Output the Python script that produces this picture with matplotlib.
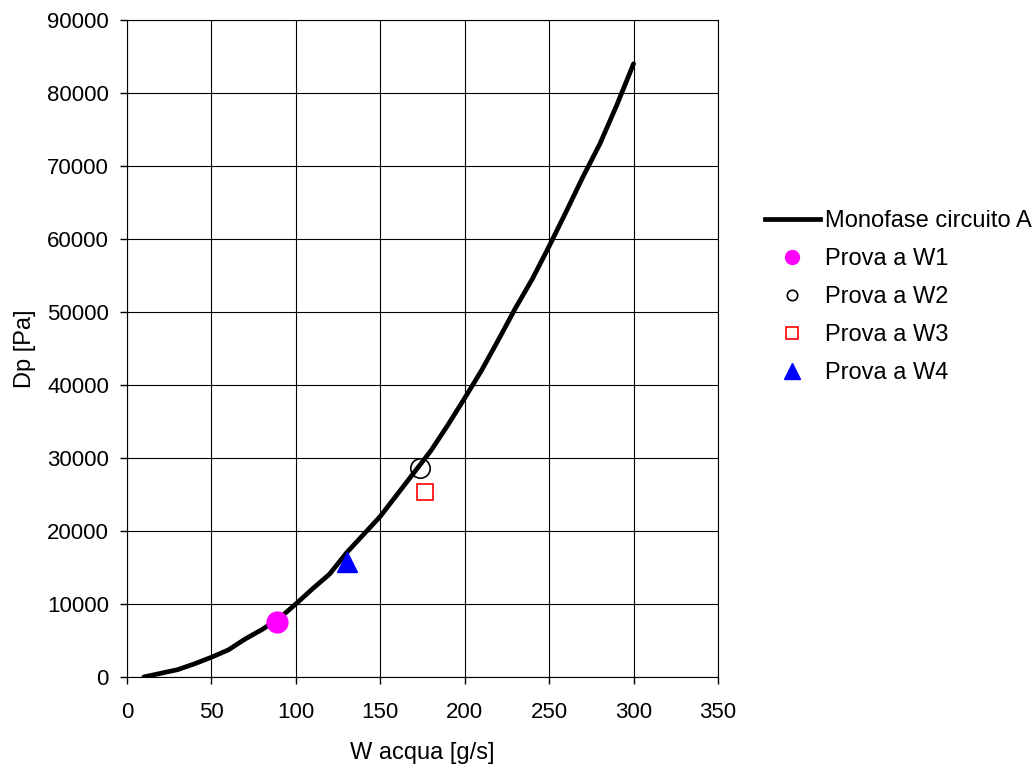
import matplotlib
matplotlib.use('Agg')
import matplotlib.pyplot as plt
from matplotlib.lines import Line2D

plt.rcParams['font.family'] = ['Liberation Sans', 'DejaVu Sans']

# curve: Monofase circuito A
w_curve = [10, 20, 30, 40, 50, 60, 70, 80, 90, 100, 110, 120, 130, 140, 150,
           160, 170, 180, 190, 200, 210, 220, 230, 240, 250, 260, 270, 280, 290, 300]
dp_curve = [0, 500, 1000, 1800, 2700, 3700, 5200, 6500, 8000, 10000, 12100, 14100,
            17000, 19500, 22000, 25000, 28000, 31000, 34500, 38200, 42000, 46200,
            50500, 54500, 59000, 63700, 68500, 73000, 78300, 84000]

# test points
w1, dp1 = [89], [7500]
w2, dp2 = [173.5], [28600]
w3, dp3 = [176.5], [25300]
w4, dp4 = [130], [15800]

fig = plt.figure(figsize=(10.35, 7.69), dpi=100)
ax = fig.add_axes([0.1227, 0.1197, 0.571, 0.8543])

ax.plot(w_curve, dp_curve, color='black', lw=3.4, solid_capstyle='round', zorder=3)
ax.plot(w1, dp1, 'o', color='magenta', ms=15, zorder=4)
ax.plot(w2, dp2, 'o', mfc='none', mec='black', ms=14, mew=1.2, zorder=4)
ax.plot(w3, dp3, 's', mfc='none', mec='red', ms=12, mew=1.2, zorder=4)
ax.plot(w4, dp4, '^', color='blue', ms=14, zorder=4)

ax.set_xlim(0, 350)
ax.set_ylim(0, 90000)
ax.set_xticks(range(0, 351, 50))
ax.set_yticks(range(0, 90001, 10000))
ax.grid(True, color='black', lw=0.8)
ax.tick_params(labelsize=16, direction='out', length=5, width=1)
ax.tick_params(axis='x', pad=13)
ax.tick_params(axis='y', pad=8)
for s in ax.spines.values():
    s.set_linewidth(0.8)
ax.set_xlabel('W acqua [g/s]', fontsize=17, labelpad=14)
ax.set_ylabel('Dp [Pa]', fontsize=17, labelpad=8)

handles = [
    Line2D([], [], color='black', lw=3.4),
    Line2D([], [], ls='none', marker='o', color='magenta', ms=10),
    Line2D([], [], ls='none', marker='o', mfc='none', mec='black', ms=7.5, mew=1.2),
    Line2D([], [], ls='none', marker='s', mfc='none', mec='red', ms=9, mew=1.2),
    Line2D([], [], ls='none', marker='^', color='blue', ms=11),
]
labels = ['Monofase circuito A', 'Prova a W1', 'Prova a W2', 'Prova a W3', 'Prova a W4']
fig.legend(handles, labels, loc='upper left', bbox_to_anchor=(0.739, 0.727),
           frameon=False, fontsize=17, handlelength=2.33, handletextpad=0.2,
           labelspacing=0.68, borderaxespad=0, borderpad=0)

fig.savefig('out.png', dpi=100)
